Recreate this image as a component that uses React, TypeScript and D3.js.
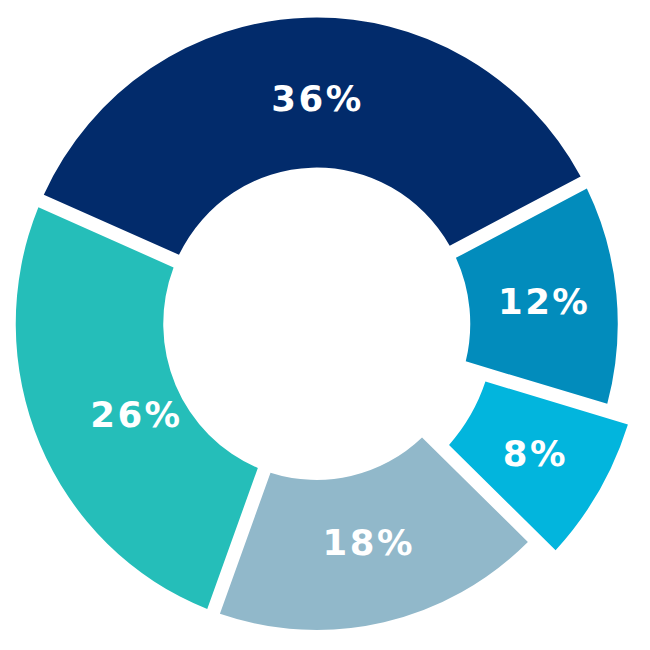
import React from "react";
import * as d3 from "d3";

// Slice order clockwise, starting from the left edge of the largest slice
const categories = ["A", "B", "C", "D", "E"];
const values = [35.8, 12.2, 7.7, 18.3, 26.0];
const labels = ["36%", "12%", "8%", "18%", "26%"];
const colors = ["#022b6b", "#028cbc", "#02b5dd", "#91b8ca", "#25beb9"];
const exploded = [false, false, true, false, false];

const W = 650;
const H = 650;
const CX = 316.75;
const CY = 323.75;
const YSCALE = 1.0174;
const R_OUT = 301;
const R_IN = 153.5;
const EXP = 24.5;
const GAP = 13.5;
const START = (-66.35 * Math.PI) / 180;
const LS = 2.5;
// label layout tweaks (radial px, angular degrees)
const labelShift = [-6, 0, 0, -6, -25];
const labelTurn = [1.8, 0, 0, -0.4, -3];

export default function App() {
  const pie = d3
    .pie<number>()
    .sort(null)
    .value((d) => d)
    .startAngle(START)
    .endAngle(START + 2 * Math.PI)
    .padAngle(0);
  const arcs = pie(values);

  const arcGen = (i: number) =>
    d3
      .arc<d3.PieArcDatum<number>>()
      .innerRadius(exploded[i] ? R_IN + EXP : R_IN)
      .outerRadius(exploded[i] ? R_OUT + EXP + 1 : R_OUT)
      .padRadius(300)
      .padAngle(GAP / 300);

  return (
    <svg
      width={W}
      height={H}
      style={{ position: "absolute", left: 0, top: 0, background: "#fff" }}
    >
      <g transform={`translate(${CX},${CY}) scale(1,${YSCALE})`}>
        {arcs.map((a, i) => (
          <path key={categories[i]} d={arcGen(i)(a) || ""} fill={colors[i]} />
        ))}
      </g>
      {arcs.map((a, i) => {
        const ri = exploded[i] ? R_IN + EXP : R_IN;
        const ro = exploded[i] ? R_OUT + EXP : R_OUT;
        const r = (ri + ro) / 2 + labelShift[i];
        const mid = (a.startAngle + a.endAngle) / 2 + (labelTurn[i] * Math.PI) / 180;
        const x = CX + r * Math.sin(mid) + LS / 2;
        const y = CY - r * Math.cos(mid) * YSCALE;
        return (
          <text
            key={"l" + categories[i]}
            x={x}
            y={y}
            textAnchor="middle"
            dominantBaseline="central"
            fill="#ffffff"
            fontFamily="'DejaVu Sans', Verdana, sans-serif"
            fontWeight="bold"
            fontSize={35.5}
            letterSpacing={LS}
          >
            {labels[i]}
          </text>
        );
      })}
    </svg>
  );
}
